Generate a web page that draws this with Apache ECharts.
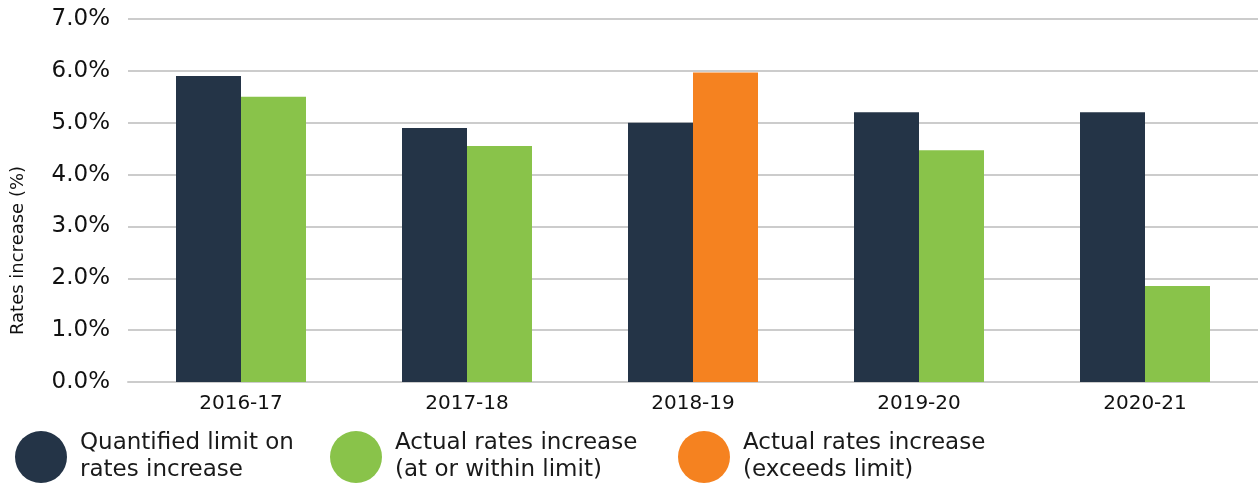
<!DOCTYPE html>
<html>
<head>
<meta charset="utf-8">
<script src="https://cdn.jsdelivr.net/npm/echarts@6/dist/echarts.min.js"></script>
<style>
  html, body { margin: 0; padding: 0; background: #fff; }
  #chart { width: 1258px; height: 484px; }
</style>
</head>
<body>
<div id="chart"></div>
<script>
// data
var years = ["2016-17", "2017-18", "2018-19", "2019-20", "2020-21"];
var limitValues = [5.9, 4.9, 5.0, 5.2, 5.2];
var withinValues = [5.5, 4.55, null, 4.47, 1.85];
var exceedsValues = [null, null, 5.97, null, null];
var yTicks = [0, 1, 2, 3, 4, 5, 6, 7];

var NAVY = "#243447";
var GREEN = "#89c34a";
var ORANGE = "#f58220";
var FONT = "DejaVu Sans";

var names = {
    limit: "Quantified limit on\nrates increase",
    within: "Actual rates increase\n(at or within limit)",
    exceeds: "Actual rates increase\n(exceeds limit)"
};

function legendAt(name, left) {
    return {
        data: [name],
        left: left,
        top: 425,
        icon: "circle",
        itemWidth: 52,
        itemHeight: 52,
        itemGap: 0,
        selectedMode: false,
        textStyle: {
            fontFamily: FONT,
            fontSize: 23,
            lineHeight: 27,
            color: "#1a1a1a",
            padding: [0, 0, 0, 8]
        }
    };
}

var chart = echarts.init(document.getElementById("chart"));
chart.setOption({
    animation: false,
    grid: {
        left: 128,
        right: 0,
        top: 19,
        bottom: 102,
        outerBoundsMode: "none"
    },
    legend: [
        legendAt(names.limit, 10),
        legendAt(names.within, 325),
        legendAt(names.exceeds, 673)
    ],
    xAxis: {
        type: "category",
        data: years,
        axisTick: { show: false },
        axisLine: { lineStyle: { color: "#cccccc", width: 2 } },
        axisLabel: {
            fontFamily: FONT,
            fontSize: 20,
            color: "#111",
            margin: 12
        }
    },
    yAxis: {
        type: "value",
        min: yTicks[0],
        max: yTicks[yTicks.length - 1],
        interval: 1,
        name: "Rates increase (%)",
        nameLocation: "middle",
        nameGap: 101,
        nameTextStyle: {
            fontFamily: FONT,
            fontSize: 18,
            color: "#111",
            padding: [0, 100, 0, 0]
        },
        axisLine: { show: false },
        axisTick: { show: false },
        splitLine: { lineStyle: { color: "#cccccc", width: 2 } },
        axisLabel: {
            fontFamily: FONT,
            fontSize: 23,
            color: "#111",
            margin: 18,
            formatter: function (v) { return v.toFixed(1) + "%"; }
        }
    },
    series: [
        {
            name: names.limit,
            type: "bar",
            data: limitValues,
            barWidth: 65,
            barGap: "0%",
            itemStyle: { color: NAVY }
        },
        {
            name: names.within,
            type: "bar",
            stack: "actual",
            data: withinValues,
            barWidth: 65,
            itemStyle: { color: GREEN }
        },
        {
            name: names.exceeds,
            type: "bar",
            stack: "actual",
            data: exceedsValues,
            barWidth: 65,
            itemStyle: { color: ORANGE }
        }
    ]
});
</script>
</body>
</html>
